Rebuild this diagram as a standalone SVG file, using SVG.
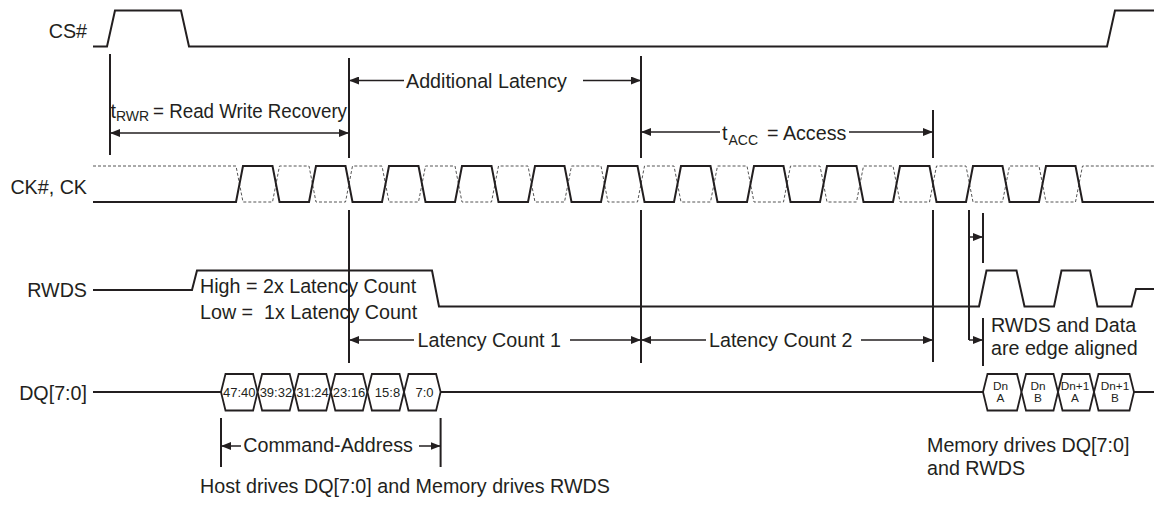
<svg xmlns="http://www.w3.org/2000/svg" width="1154" height="505" viewBox="0 0 1154 505">
<style>
text{font-family:"Liberation Sans",Arial,sans-serif;font-size:19.7px;fill:#231f20}
.lbl{text-anchor:end}
.sub{font-size:14px}
.hx{font-size:13px;text-anchor:middle}
.hd{font-size:11.8px;text-anchor:middle}
.wave{fill:none;stroke:#231f20;stroke-width:2;stroke-linejoin:miter}
.dash{fill:none;stroke:#555;stroke-width:1;stroke-dasharray:3 2}
.vl{stroke:#231f20;stroke-width:2}
.ar{stroke:#231f20;stroke-width:1.5;fill:none}
.ab{marker-start:url(#ah);marker-end:url(#ah)}
.as{marker-start:url(#ah)}
.ae{marker-end:url(#ah)}
.hex{fill:#fff;stroke:#231f20;stroke-width:1.8}
</style>
<defs>
<marker id="ah" viewBox="0 0 10 8" refX="10" refY="4" markerWidth="10" markerHeight="8" markerUnits="userSpaceOnUse" orient="auto-start-reverse"><path d="M0,0 L10,4 L0,8 Z" fill="#231f20"/></marker>
</defs>
<rect width="1154" height="505" fill="#fff"/>

<g id="cs">
<text class="lbl" x="87" y="38">CS#</text>
<path class="wave" d="M93,46.5 H107 L115,10.5 H181 L189,46.5 H1107 L1115,10.5 H1154"/>
</g>

<g id="ck">
<text class="lbl" x="87" y="193.5">CK#, CK</text>
<path class="dash" d="M93,166 H236 L243,202 H272.5 L279.5,166 H309 L316,202 H345.5 L352.5,166 H382 L389,202 H418.5 L425.5,166 H455 L462,202 H491.5 L498.5,166 H528 L535,202 H564.5 L571.5,166 H601 L608,202 H637.5 L644.5,166 H674 L681,202 H710.5 L717.5,166 H747 L754,202 H783.5 L790.5,166 H820 L827,202 H856.5 L863.5,166 H893 L900,202 H929.5 L936.5,166 H966 L973,202 H1002.5 L1009.5,166 H1039 L1046,202 H1075.5 L1082.5,166 H1154"/>
<path class="wave" d="M93,202 H236 L243,166 H272.5 L279.5,202 H309 L316,166 H345.5 L352.5,202 H382 L389,166 H418.5 L425.5,202 H455 L462,166 H491.5 L498.5,202 H528 L535,166 H564.5 L571.5,202 H601 L608,166 H637.5 L644.5,202 H674 L681,166 H710.5 L717.5,202 H747 L754,166 H783.5 L790.5,202 H820 L827,166 H856.5 L863.5,202 H893 L900,166 H929.5 L936.5,202 H966 L973,166 H1002.5 L1009.5,202 H1039 L1046,166 H1075.5 L1082.5,202 H1154"/>
</g>

<g id="rwds">
<text class="lbl" x="87" y="297">RWDS</text>
<path class="wave" d="M93,290 H192 L197,270.5 H432 L439,306.5 H979 L986.5,270.5 H1016.5 L1024.5,306.5 H1054 L1061.5,270.5 H1090 L1097.5,306.5 H1131.5 L1136,289 H1154"/>
<text x="200" y="293">High = 2x Latency Count</text>
<text x="200" y="319">Low =&#160; 1x Latency Count</text>
</g>

<g id="dq">
<text class="lbl" x="87" y="400">DQ[7:0]</text>
<path class="wave" d="M93,392 H221 M440.6,392 H983 M1134,392 H1154"/>
<path class="hex" d="M221,392 L225.5,374 H253.1 L257.6,392 L253.1,410.5 H225.5 Z"/>
<path class="hex" d="M257.6,392 L262.1,374 H289.7 L294.2,392 L289.7,410.5 H262.1 Z"/>
<path class="hex" d="M294.2,392 L298.7,374 H326.3 L330.8,392 L326.3,410.5 H298.7 Z"/>
<path class="hex" d="M330.8,392 L335.3,374 H362.9 L367.4,392 L362.9,410.5 H335.3 Z"/>
<path class="hex" d="M367.4,392 L371.9,374 H399.5 L404,392 L399.5,410.5 H371.9 Z"/>
<path class="hex" d="M404,392 L408.5,374 H436.1 L440.6,392 L436.1,410.5 H408.5 Z"/>
<text class="hx" x="239.3" y="396.5">47:40</text>
<text class="hx" x="275.9" y="396.5">39:32</text>
<text class="hx" x="312.5" y="396.5">31:24</text>
<text class="hx" x="349.1" y="396.5">23:16</text>
<text class="hx" x="387.5" y="396.5">15:8</text>
<text class="hx" x="424.5" y="396.5">7:0</text>
<path class="hex" d="M983,392 L987.5,374 H1017 L1021.5,392 L1017,410.5 H987.5 Z"/>
<path class="hex" d="M1021.5,392 L1026,374 H1053.5 L1058,392 L1053.5,410.5 H1026 Z"/>
<path class="hex" d="M1058,392 L1062.5,374 H1089.5 L1094,392 L1089.5,410.5 H1062.5 Z"/>
<path class="hex" d="M1094,392 L1098.5,374 H1129.5 L1134,392 L1129.5,410.5 H1098.5 Z"/>
<text class="hd" x="1000.5" y="389.5">Dn</text><text class="hd" x="1000.5" y="402">A</text>
<text class="hd" x="1038" y="389.5">Dn</text><text class="hd" x="1038" y="402">B</text>
<text class="hd" x="1075" y="389.5">Dn+1</text><text class="hd" x="1075" y="402">A</text>
<text class="hd" x="1115" y="389.5">Dn+1</text><text class="hd" x="1115" y="402">B</text>
</g>

<g id="connectors">
<line class="vl" x1="110" y1="54" x2="110" y2="155"/>
<line class="vl" x1="349" y1="58" x2="349" y2="158"/>
<line class="vl" x1="349" y1="210" x2="349" y2="363"/>
<line class="vl" x1="641" y1="56" x2="641" y2="158"/>
<line class="vl" x1="641" y1="210" x2="641" y2="363"/>
<line class="vl" x1="933" y1="110" x2="933" y2="158"/>
<line class="vl" x1="933" y1="210" x2="933" y2="362"/>
<line class="vl" x1="969" y1="210" x2="969" y2="340"/>
<line class="vl" x1="983" y1="213" x2="983" y2="263"/>
<line class="vl" x1="983" y1="318" x2="983" y2="366"/>
<line class="vl" x1="221" y1="418" x2="221" y2="467"/>
<line class="vl" x1="440.6" y1="418" x2="440.6" y2="467"/>

<path class="ar as" d="M349,80.5 H404"/>
<path class="ar ae" d="M583,80.5 H641"/>
<path class="ar ab" d="M110,133 H349"/>
<path class="ar as" d="M641,132 H720"/>
<path class="ar ae" d="M849,132 H933"/>
<path class="ar as" d="M349,340 H414"/>
<path class="ar ae" d="M570,340 H641"/>
<path class="ar as" d="M641,340 H706"/>
<path class="ar ae" d="M861,340 H933"/>
<path class="ar ae" d="M969,237 H983"/>
<path class="ar ae" d="M969,340 H983"/>
<path class="ar as" d="M221,446 H241"/>
<path class="ar ae" d="M419,446 H440.6"/>
</g>

<g id="labels">
<text x="406" y="88">Additional Latency</text>
<text x="110.5" y="118">t</text><text class="sub" x="116" y="121">RWR</text>
<text x="153" y="118" textLength="194" lengthAdjust="spacingAndGlyphs">= Read Write Recovery</text>
<text x="722" y="140">t</text><text class="sub" x="728.5" y="145">ACC</text>
<text x="767" y="140">= Access</text>
<text x="417.6" y="347">Latency Count 1</text>
<text x="709" y="347">Latency Count 2</text>
<text x="991" y="332">RWDS and Data</text>
<text x="991" y="355">are edge aligned</text>
<text x="243.3" y="452">Command-Address</text>
<text x="927" y="452">Memory drives DQ[7:0]</text>
<text x="927" y="475">and RWDS</text>
<text x="200" y="493">Host drives DQ[7:0] and Memory drives RWDS</text>
</g>
</svg>
